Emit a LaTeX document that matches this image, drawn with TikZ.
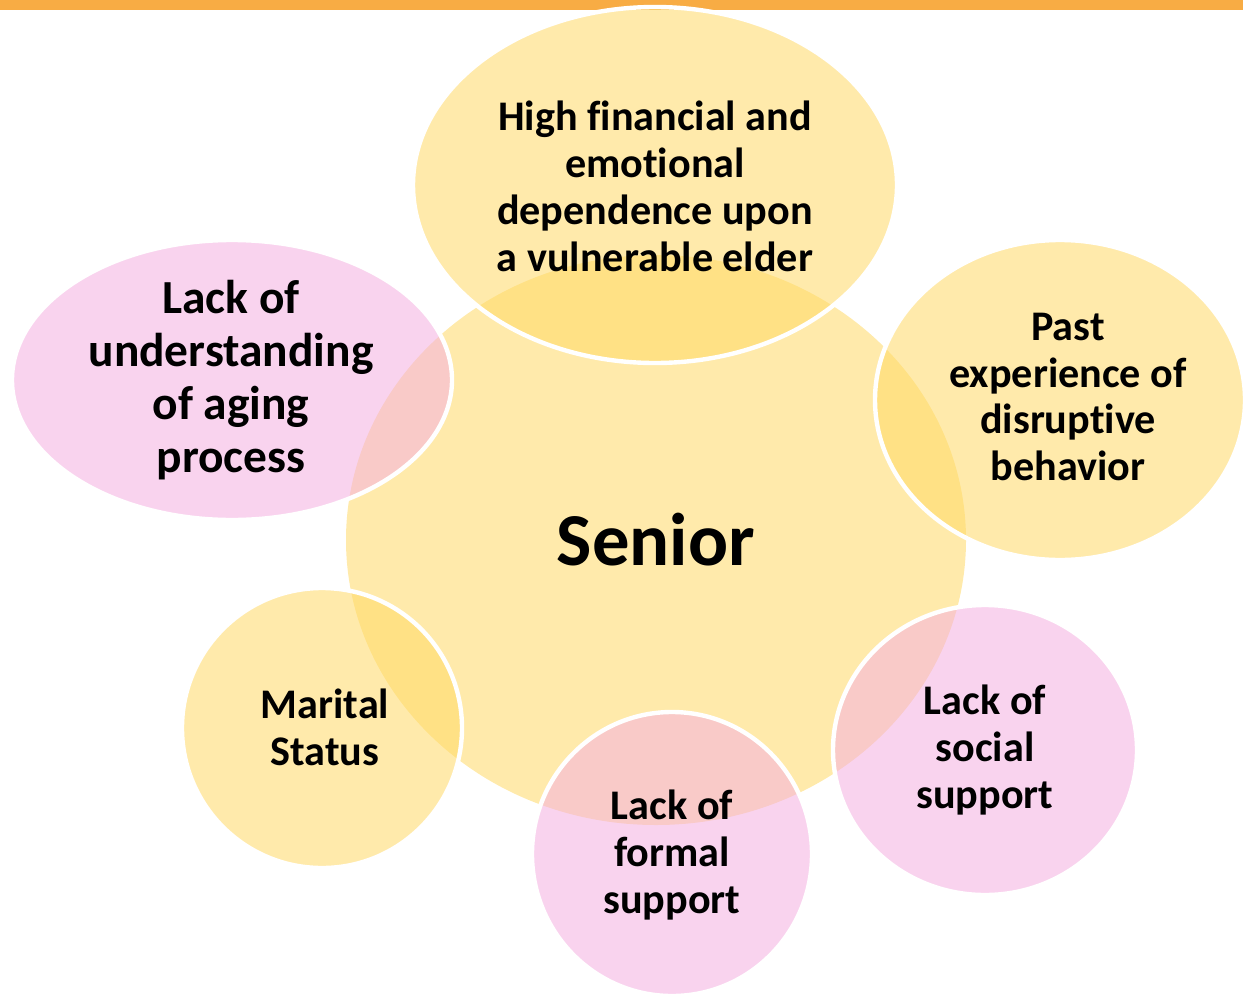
\documentclass[tikz,border=0pt]{standalone}
\usepackage{fontspec}
\setmainfont{Carlito}[Ligatures=NoCommon]
\usetikzlibrary{positioning}
\definecolor{barorange}{HTML}{F8AC44}
\definecolor{goldfill}{HTML}{FFD966}
\definecolor{pinkfill}{HTML}{F4AFE0}

\begin{document}
\begin{tikzpicture}[
    goldbub/.style={fill=goldfill, fill opacity=0.55},
    pinkbub/.style={fill=pinkfill, fill opacity=0.55},
    rim/.style={draw=white, line width=2.5pt},
    lbl/.style={align=center, font=\fontsize{24}{26.7}\selectfont\bfseries, text=black}
  ]
  \useasboundingbox (0,0) rectangle (24.86,-19.92);

  % Top bar
  \fill[barorange] (0,0) rectangle (24.86,-0.2);

  % Centre bubble
  \fill[goldbub] (13.12,-10.8) ellipse [x radius=6.2, y radius=5.7];

  % Surrounding bubbles
  \path[goldbub, rim] (13.1,-3.7) ellipse [x radius=4.84, y radius=3.56];
  \path[pinkbub, rim] (4.64,-7.6) ellipse [x radius=4.4, y radius=2.8];
  \path[goldbub, rim] (21.2,-8.0) ellipse [x radius=3.7, y radius=3.2];
  \path[goldbub, rim] (6.44,-14.56) ellipse [x radius=2.8, y radius=2.8];
  \path[pinkbub, rim] (13.44,-17.08) ellipse [x radius=2.8, y radius=2.84];
  \path[pinkbub, rim] (19.7,-15.0) ellipse [x radius=3.04, y radius=2.9];

  % Labels
  \node[lbl, font=\fontsize{42.5}{50}\selectfont\bfseries] (senior) at (13.12,-10.8) {Senior};
  \node[lbl] (dependence) at (13.1,-3.72) {High financial and\\emotional\\dependence upon\\a vulnerable elder};
  \node[lbl, font=\fontsize{27}{30}\selectfont\bfseries] (aging) at (4.62,-7.6) {Lack of\\understanding\\of aging\\process};
  \node[lbl] (past) at (21.36,-7.94) {Past\\experience of\\disruptive\\behavior};
  \node[lbl] (marital) at (6.5,-14.54) {Marital\\Status};
  \node[lbl] (formal) at (13.44,-17.1) {Lack of\\formal\\support};
  \node[lbl] (social) at (19.7,-15.0) {Lack of\\social\\support};
\end{tikzpicture}
\end{document}
